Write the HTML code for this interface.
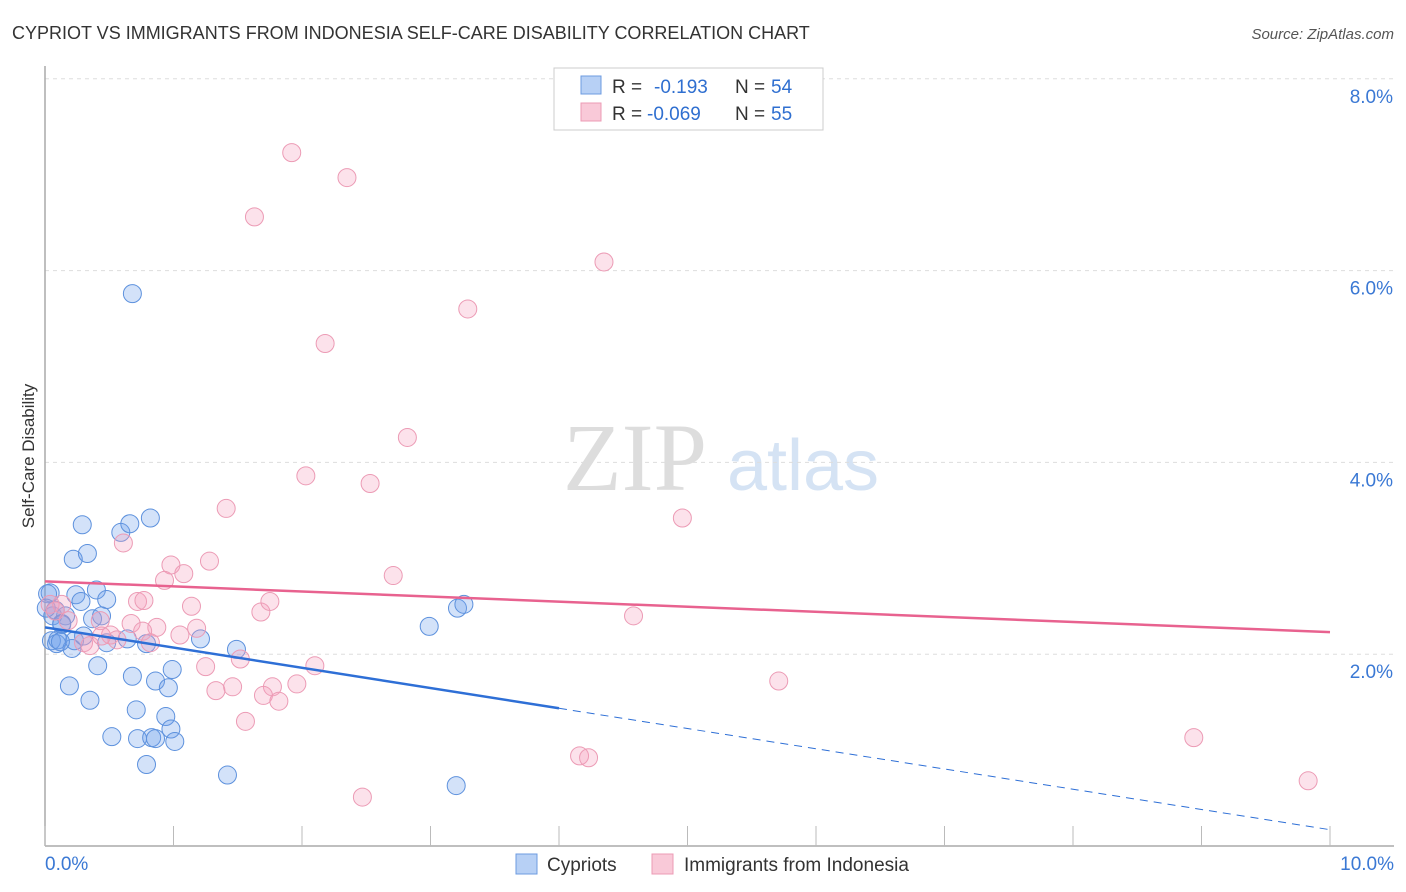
<!DOCTYPE html>
<html><head><meta charset="utf-8"><style>
body{margin:0;background:#fff;font-family:"Liberation Sans",sans-serif;}
svg{display:block}
</style></head><body>
<svg id="chart" width="1406" height="892">
<text x="12" y="39" font-size="18" fill="#333">CYPRIOT VS IMMIGRANTS FROM INDONESIA SELF-CARE DISABILITY CORRELATION CHART</text>
<text x="1394" y="39" font-size="15" fill="#555" font-style="italic" text-anchor="end">Source: ZipAtlas.com</text>
<text x="34" y="456" font-size="17" fill="#333" transform="rotate(-90 34 456)" text-anchor="middle">Self-Care Disability</text>
<g>
<text x="635" y="490" font-size="96" font-family="Liberation Serif,serif" fill="#ddd" text-anchor="middle">ZIP</text>
<text x="803" y="490" font-size="72" fill="#d5e3f4" text-anchor="middle">atlas</text>
</g>
<g id="grid"></g><g id="axes"></g><g id="marks"></g>
<g>
<rect x="554" y="68" width="269" height="62" fill="#fff" stroke="#ccc"/>
<rect x="581" y="76" width="20" height="18" fill="#b7d0f5" stroke="#6c9be0"/>
<rect x="581" y="103" width="20" height="18" fill="#f9c9d8" stroke="#ec9bb5"/>
<text x="612" y="93" font-size="19" fill="#333">R =</text>
<text x="654" y="93" font-size="19" fill="#2f6fd0">-0.193</text>
<text x="735" y="93" font-size="19" fill="#333">N =</text>
<text x="771" y="93" font-size="19" fill="#2f6fd0">54</text>
<text x="612" y="120" font-size="19" fill="#333">R =</text>
<text x="647" y="120" font-size="19" fill="#2f6fd0">-0.069</text>
<text x="735" y="120" font-size="19" fill="#333">N =</text>
<text x="771" y="120" font-size="19" fill="#2f6fd0">55</text>
</g>
<g>
<rect x="516" y="854" width="21" height="20" fill="#b7d0f5" stroke="#6c9be0"/>
<text x="547" y="871" font-size="19" fill="#333">Cypriots</text>
<rect x="652" y="854" width="21" height="20" fill="#f9c9d8" stroke="#ec9bb5"/>
<text x="684" y="871" font-size="19" fill="#333">Immigrants from Indonesia</text>
</g>
</svg>
<script>
const yTicks=[2,4,6,8];
const yTickLabels=["2.0%","4.0%","6.0%","8.0%"];
const xTickLabels=["0.0%","10.0%"];
const blueX=[0.29,0.59,0.66,0.82,0.22,0.33,0.04,0.24,0.28,0.40,0.48,0.06,0.16,0.37,0.44,0.05,0.09,0.21,0.48,0.64,0.79,1.21,1.49,0.41,0.19,0.35,0.68,0.86,0.99,0.96,0.71,0.94,0.98,0.52,0.72,0.83,0.86,1.01,0.79,1.42,0.68,2.99,3.21,3.26,3.20,0.02,0.08,0.13,0.01,0.10,0.23,0.13,0.12,0.30];
const blueY=[3.35,3.27,3.36,3.42,2.99,3.05,2.64,2.62,2.55,2.67,2.57,2.40,2.40,2.37,2.40,2.14,2.11,2.06,2.12,2.16,2.11,2.16,2.05,1.88,1.67,1.52,1.77,1.72,1.84,1.65,1.42,1.35,1.22,1.14,1.12,1.13,1.12,1.09,0.85,0.74,5.76,2.29,2.48,2.52,0.63,2.63,2.46,2.32,2.48,2.15,2.14,2.31,2.13,2.19];
const pinkX=[1.92,2.35,1.63,4.35,3.29,2.18,2.82,2.03,2.53,4.96,1.41,0.61,1.28,0.98,0.93,2.71,0.72,1.14,1.68,4.58,8.94,9.83,4.16,4.23,2.47,5.71,1.08,0.77,1.75,0.67,0.87,1.18,0.76,1.05,0.51,0.56,0.82,0.30,0.35,1.52,1.25,2.10,1.33,1.46,1.77,1.70,1.82,1.96,1.56,0.04,0.08,0.13,0.18,0.43,0.44];
const pinkY=[7.23,6.97,6.56,6.09,5.60,5.24,4.26,3.86,3.78,3.42,3.52,3.16,2.97,2.93,2.77,2.82,2.55,2.50,2.44,2.40,1.13,0.68,0.94,0.92,0.51,1.72,2.84,2.56,2.55,2.32,2.28,2.27,2.24,2.20,2.20,2.15,2.12,2.12,2.09,1.95,1.87,1.88,1.62,1.66,1.66,1.57,1.51,1.69,1.30,2.52,2.45,2.52,2.35,2.35,2.19];
const blueTrend=[2.28,-0.211];
const pinkTrend=[2.76,-0.053];
const solidEnd=[4.0];
const X0=45,X1=1330,Y0=846,PX=128.5,PY=95.9;
const sx=v=>X0+v*PX, sy=v=>Y0-v*PY;
const NS="http://www.w3.org/2000/svg";
function mk(tag,attrs,parent){const e=document.createElementNS(NS,tag);for(const k in attrs)e.setAttribute(k,attrs[k]);document.getElementById(parent).appendChild(e);return e;}
yTicks.forEach((t,i)=>{
 const g=mk('line',{x1:45,x2:1394,y1:sy(t),y2:sy(t),stroke:'#ddd','stroke-dasharray':'4,4'},'grid');
 
 
 const l=mk('text',{x:1393,y:sy(t)+24,'font-size':19,fill:'#3a78d4','text-anchor':'end'},'grid');l.textContent=yTickLabels[i];
 
 
});
const ya=mk('line',{x1:45,x2:45,y1:66,y2:846,stroke:'#aaa','stroke-width':1.5},'axes');


const xa=mk('line',{x1:45,x2:1394,y1:846,y2:846,stroke:'#aaa','stroke-width':1.5},'axes');


for(let i=0;i<=10;i++){const t=mk('line',{x1:sx(i),x2:sx(i),y1:826,y2:846,stroke:'#bbb'},'axes');
 
 }
[[0,'start',45],[10,'end',1394]].forEach((d,i)=>{const l=mk('text',{x:d[2],y:870,'font-size':19,fill:'#3a78d4','text-anchor':d[1]},'axes');l.textContent=xTickLabels[i];
 
 });
blueX.forEach((v,i)=>{const c=mk('circle',{cx:sx(v),cy:sy(blueY[i]),r:9,fill:'rgba(110,160,235,0.3)',stroke:'#5d91dd','stroke-width':1},'marks');
 
 });
pinkX.forEach((v,i)=>{const c=mk('circle',{cx:sx(v),cy:sy(pinkY[i]),r:9,fill:'rgba(245,160,190,0.3)',stroke:'#ec9bb5','stroke-width':1},'marks');
 
 });
const f=(tr,x)=>tr[0]+tr[1]*x;
const pl=mk('line',{x1:sx(0),y1:sy(f(pinkTrend,0)),x2:sx(10),y2:sy(f(pinkTrend,10)),stroke:'#e8628f','stroke-width':2.5},'marks');


const bl=mk('line',{x1:sx(0),y1:sy(f(blueTrend,0)),x2:sx(solidEnd[0]),y2:sy(f(blueTrend,solidEnd[0])),stroke:'#2e6fd6','stroke-width':2.5},'marks');


const bd=mk('line',{x1:sx(solidEnd[0]),y1:sy(f(blueTrend,solidEnd[0])),x2:sx(10),y2:sy(f(blueTrend,10)),stroke:'#2e6fd6','stroke-width':1,'stroke-dasharray':'8,6'},'marks');


</script>
</body></html>
